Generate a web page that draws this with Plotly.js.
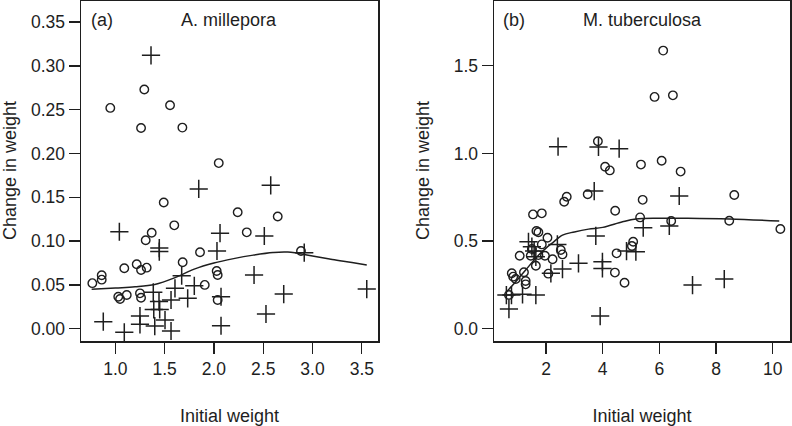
<!DOCTYPE html>
<html>
<head>
<meta charset="utf-8">
<script src="https://cdn.plot.ly/plotly-3.0.1.min.js"></script>
<style>html,body{margin:0;padding:0;background:#fff}#chart{width:792px;height:426px}</style>
</head>
<body>
<div id="chart"></div>
<script>
// Panel (a) A. millepora
const aCircleX = [0.767,0.862,0.862,0.949,1.03,1.048,1.091,1.116,1.217,1.25,1.261,1.261,1.261,1.294,1.318,1.308,1.369,1.491,1.555,1.598,1.68,1.683,1.859,1.907,2.028,2.038,2.038,2.049,2.241,2.333,2.647,2.883];
const aCircleY = [0.052,0.061,0.056,0.252,0.0365,0.034,0.069,0.0385,0.0735,0.0404,0.0354,0.067,0.229,0.273,0.0697,0.101,0.1096,0.144,0.255,0.118,0.2295,0.0758,0.0872,0.050,0.0659,0.0613,0.0328,0.189,0.133,0.110,0.128,0.0887];
const aPlusX = [0.878,1.041,1.091,1.25,1.25,1.362,1.385,1.40,1.39,1.45,1.443,1.446,1.446,1.504,1.565,1.565,1.605,1.673,1.734,1.801,1.846,2.031,2.062,2.072,2.072,2.407,2.511,2.528,2.576,2.708,2.916,3.55];
const aPlusY = [0.008,0.1107,-0.004,0.0145,0.005,0.312,0.0416,0.003,0.022,0.022,0.031,0.092,0.088,0.0099,-0.0026,0.0328,0.0461,0.0605,0.0347,0.049,0.1595,0.0887,0.109,0.0365,0.0034,0.0613,0.1058,0.0168,0.1637,0.0396,0.0868,0.0453];
const aCurveX = [0.76,1.0,1.2,1.4,1.6,1.8,2.0,2.2,2.4,2.6,2.75,3.0,3.2,3.4,3.55];
const aCurveY = [0.045,0.0465,0.0478,0.0505,0.058,0.068,0.075,0.080,0.084,0.087,0.0875,0.083,0.079,0.0755,0.0727];

// Panel (b) M. tuberculosa
const bCircleX = [0.69,0.79,0.84,0.93,1.07,1.22,1.28,1.28,1.46,1.50,1.54,1.64,1.66,1.73,1.73,1.85,1.85,1.96,2.05,2.08,2.23,2.52,2.58,2.64,2.73,3.47,3.83,4.085,4.25,4.43,4.44,4.49,4.77,5.03,5.075,5.32,5.35,5.41,5.83,6.08,6.134,6.417,6.477,6.75,8.466,8.643,10.27];
const bCircleY = [0.192,0.316,0.297,0.284,0.416,0.322,0.272,0.253,0.416,0.455,0.652,0.359,0.557,0.55,0.42,0.658,0.481,0.416,0.519,0.314,0.396,0.449,0.424,0.724,0.753,0.767,1.069,0.924,0.903,0.32,0.673,0.430,0.262,0.472,0.496,0.635,0.936,0.735,1.322,0.958,1.586,0.614,1.331,0.896,0.616,0.763,0.569];
const bPlusX = [0.6,0.78,0.69,1.17,1.64,1.64,1.38,1.5,1.58,2.17,2.40,2.58,2.424,3.145,3.70,3.756,3.85,3.91,3.99,3.99,4.58,4.84,5.17,5.43,6.35,6.70,7.17,8.29];
const bPlusY = [0.192,0.192,0.112,0.196,0.192,0.41,0.496,0.468,0.443,0.316,0.481,0.34,1.038,0.373,0.785,0.529,1.037,0.072,0.382,0.344,1.027,0.443,0.439,0.576,0.586,0.757,0.249,0.283];
const bCurveX = [0.6,0.93,1.28,1.74,2.0,2.23,2.58,3.0,3.5,4.0,4.7,5.17,6.0,7.0,8.47,10.23];
const bCurveY = [0.21,0.268,0.335,0.42,0.46,0.49,0.534,0.552,0.568,0.578,0.61,0.626,0.63,0.63,0.626,0.614];

const aXTicks = [1.0,1.5,2.0,2.5,3.0,3.5];
const aYTicks = [0.00,0.05,0.10,0.15,0.20,0.25,0.30,0.35];
const bXTicks = [2,4,6,8,10];
const bYTicks = [0.0,0.5,1.0,1.5];

const ink = '#1e1e1e';
const FONT = 'Liberation Sans, Arial, sans-serif';
const TICKSIZE = 17.5, TITLESIZE = 18;
const circ = {symbol:'circle-open', size:8.5, color:ink, line:{width:1.4, color:ink}};
const plus = {symbol:'cross-thin-open', size:13, color:ink, line:{width:1.5, color:ink}};

const traces = [
  {x:aCircleX, y:aCircleY, mode:'markers', marker:circ, xaxis:'x', yaxis:'y', showlegend:false, hoverinfo:'skip'},
  {x:aPlusX, y:aPlusY, mode:'markers', marker:plus, xaxis:'x', yaxis:'y', showlegend:false, hoverinfo:'skip'},
  {x:aCurveX, y:aCurveY, mode:'lines', line:{color:ink, width:1.5, shape:'spline'}, xaxis:'x', yaxis:'y', showlegend:false, hoverinfo:'skip'},
  {x:bCircleX, y:bCircleY, mode:'markers', marker:circ, xaxis:'x2', yaxis:'y2', showlegend:false, hoverinfo:'skip'},
  {x:bPlusX, y:bPlusY, mode:'markers', marker:plus, xaxis:'x2', yaxis:'y2', showlegend:false, hoverinfo:'skip'},
  {x:bCurveX, y:bCurveY, mode:'lines', line:{color:ink, width:1.5, shape:'spline'}, xaxis:'x2', yaxis:'y2', showlegend:false, hoverinfo:'skip'}
];

function axis(extra){
  return Object.assign({
    showline:true, mirror:true, linecolor:ink, linewidth:1.5,
    showgrid:false, zeroline:false, ticks:'outside', ticklen:11, tickwidth:1.3, tickcolor:ink,
    tickfont:{family:FONT, size:TICKSIZE, color:ink}, automargin:false, fixedrange:true
  }, extra);
}
const tfont = {family:FONT, size:TITLESIZE, color:ink};
const W = 792, H = 426;
function note(text, px, py, opts){
  return Object.assign({text:text, xref:'paper', yref:'paper', x:px/W, y:(H-py)/H, xanchor:'center', yanchor:'middle', showarrow:false, font:tfont}, opts||{});
}

const layout = {
  width:W, height:H,
  margin:{l:0, r:0, t:0, b:0},
  paper_bgcolor:'#fff', plot_bgcolor:'#fff',
  font:{family:FONT, size:TITLESIZE, color:ink},
  xaxis: axis({domain:[81/W, 378/W], range:[0.652,3.664], tickvals:aXTicks, tickformat:'.1f', anchor:'y',
    title:{text:'Initial weight', font:tfont, standoff:34}}),
  yaxis: axis({domain:[85/H, 425/H], range:[-0.014,0.374], tickvals:aYTicks, tickformat:'.2f', anchor:'x'}),
  xaxis2: axis({domain:[494/W, 790/W], range:[0.163,10.61], tickvals:bXTicks, tickformat:'d', anchor:'y2',
    title:{text:'Initial weight', font:tfont, standoff:34}}),
  yaxis2: axis({domain:[85/H, 425/H], range:[-0.070,1.869], tickvals:bYTicks, tickformat:'.1f', anchor:'x2'}),
  annotations:[
    note('Change in weight', 10, 171, {textangle:-90}),
    note('Change in weight', 423, 171, {textangle:-90}),
    note('(a)', 89, 20.5, {xanchor:'left'}),
    note('A. millepora', 228.8, 20.5),
    note('(b)', 501, 20.5, {xanchor:'left'}),
    note('M. tuberculosa', 642.5, 20.5)
  ]
};

Plotly.newPlot('chart', traces, layout, {displayModeBar:false, staticPlot:true});
</script>
</body>
</html>
